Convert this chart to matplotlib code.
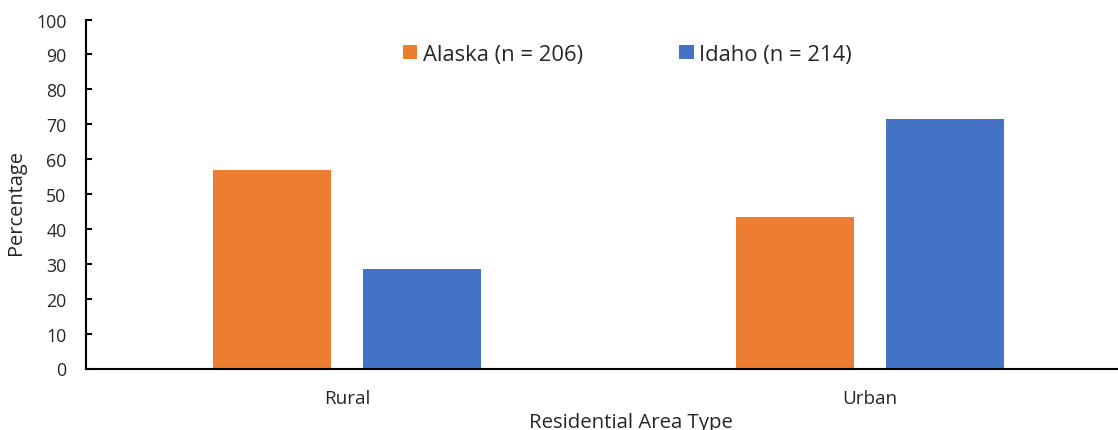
import matplotlib
matplotlib.use("Agg")
import matplotlib.pyplot as plt
import numpy as np
from matplotlib.patches import Patch

categories = ["Rural", "Urban"]
series_names = ["Alaska (n = 206)", "Idaho (n = 214)"]
alaska = [56.9, 43.3]
idaho = [28.4, 71.5]
yticks = [0, 10, 20, 30, 40, 50, 60, 70, 80, 90, 100]

colors = ["#ED7D31", "#4472C4"]
text_color = "#262626"

plt.rcParams["font.family"] = ["Open Sans", "DejaVu Sans"]

W, H = 1118, 431
fig = plt.figure(figsize=(W / 100, H / 100), dpi=100)
left_px, right_px = 86, 1131.5
top_px, bottom_px = 20.5, 369.5
ax = fig.add_axes([left_px / W, 1 - bottom_px / H,
                   (right_px - left_px) / W, (bottom_px - top_px) / H])

x = np.arange(len(categories))
bw = 0.2256
off = 0.1435
ax.bar(x - off, alaska, width=bw, color=colors[0], label=series_names[0], zorder=2)
ax.bar(x + off, idaho, width=bw, color=colors[1], label=series_names[1], zorder=2)

ax.set_xlim(-0.5, 1.5)
ax.set_ylim(0, 100)
ax.set_yticks(yticks)
ax.set_xticks(x)
ax.set_xticklabels(categories)

for s in ["top", "right"]:
    ax.spines[s].set_visible(False)
for s in ["left", "bottom"]:
    ax.spines[s].set_linewidth(1.5)
    ax.spines[s].set_color("black")

ax.tick_params(axis="y", direction="in", length=4.5, width=1.5, pad=14,
               labelsize=12.8, labelcolor=text_color)
ax.tick_params(axis="x", length=0, pad=15, labelsize=13.6, labelcolor=text_color)

ax.set_xlabel("Residential Area Type", fontsize=14.7, color=text_color)
ax.xaxis.set_label_coords((630.5 - left_px) / (right_px - left_px), -0.124)
ax.set_ylabel("Percentage", fontsize=14.4, color=text_color)
ax.yaxis.set_label_coords((26 - left_px) / (right_px - left_px), 0.479)

handles = [Patch(facecolor=c, edgecolor="none") for c in colors]
leg = ax.legend(handles, series_names, ncol=2, frameon=False,
                loc="center", bbox_to_anchor=((627.5 - left_px) / (right_px - left_px),
                                              (bottom_px - 55) / (bottom_px - top_px)),
                fontsize=15.8, handlelength=0.64, handleheight=0.64,
                handletextpad=0.27, columnspacing=4.4, borderpad=0)
for t in leg.get_texts():
    t.set_color(text_color)

fig.savefig("out.png", dpi=100)
